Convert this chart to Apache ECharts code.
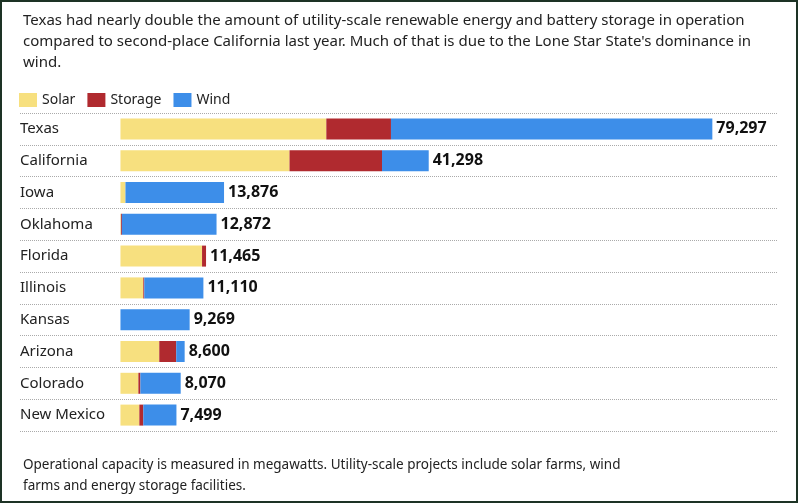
<!DOCTYPE html>
<html>
<head>
<meta charset="utf-8">
<script src="https://cdn.jsdelivr.net/npm/echarts@6/dist/echarts.min.js"></script>
<style>
  html, body { margin: 0; padding: 0; background: #fff; }
  #main { width: 798px; height: 503px; box-sizing: border-box; border: 2px solid #1d3325; }
</style>
</head>
<body>
<div id="main"></div>
<script>
// values in megawatts
var states = ['Texas', 'California', 'Iowa', 'Oklahoma', 'Florida', 'Illinois', 'Kansas', 'Arizona', 'Colorado', 'New Mexico'];
var totals = [79297, 41298, 13876, 12872, 11465, 11110, 9269, 8600, 8070, 7499];
var solar = [27580, 22650, 670, 60, 10930, 3060, 0, 5200, 2400, 2530];
var storage = [8660, 12390, 0, 130, 535, 130, 0, 2270, 270, 530];
var wind = totals.map(function (t, i) { return t - solar[i] - storage[i]; });

var chart = echarts.init(document.getElementById('main'));
var font = '"Noto Sans", sans-serif';
chart.setOption({
    animation: false,
    textStyle: { fontFamily: font },
    title: [
        {
            text: "Texas had nearly double the amount of utility-scale renewable energy and battery storage in operation compared to second-place California last year. Much of that is due to the Lone Star State's dominance in wind.",
            left: 16, top: 3,
            textStyle: { fontSize: 15, fontWeight: 'normal', color: '#222', width: 772, overflow: 'break', lineHeight: 21, fontFamily: font }
        },
        {
            text: 'Operational capacity is measured in megawatts. Utility-scale projects include solar farms, wind farms and energy storage facilities.',
            left: 16, top: 448,
            textStyle: { fontSize: 13.5, fontWeight: 'normal', color: '#222', width: 740, overflow: 'break', lineHeight: 21, fontFamily: font }
        }
    ],
    legend: {
        left: 12, top: 86, itemWidth: 18, itemHeight: 14, itemGap: 12,
        icon: 'rect',
        textStyle: { fontSize: 14, color: '#222' },
        data: ['Solar', 'Storage', 'Wind']
    },
    grid: { left: 18, right: 18, top: 111, bottom: 70 },
    xAxis: {
        type: 'value', min: -13460, max: 88093,
        show: false
    },
    yAxis: {
        type: 'category', data: states, inverse: true,
        axisLine: { show: false }, axisTick: { show: false },
        axisLabel: { inside: true, margin: 0, align: 'left', fontSize: 15, color: '#222' },
        splitLine: { show: true, lineStyle: { type: 'dotted', color: '#aaa' } }
    },
    series: [
        { name: 'Solar', type: 'bar', stack: 'a', data: solar, barWidth: 21, itemStyle: { color: '#f7e07f' } },
        { name: 'Storage', type: 'bar', stack: 'a', data: storage, itemStyle: { color: '#b02a2f' } },
        {
            name: 'Wind', type: 'bar', stack: 'a', data: wind, itemStyle: { color: '#3d8ee9' },
            label: {
                show: true, position: 'right', distance: 4,
                fontSize: 16, fontWeight: 'bold', color: '#111',
                formatter: function (p) { return totals[p.dataIndex].toLocaleString('en-US'); }
            }
        }
    ]
});
</script>
</body>
</html>
